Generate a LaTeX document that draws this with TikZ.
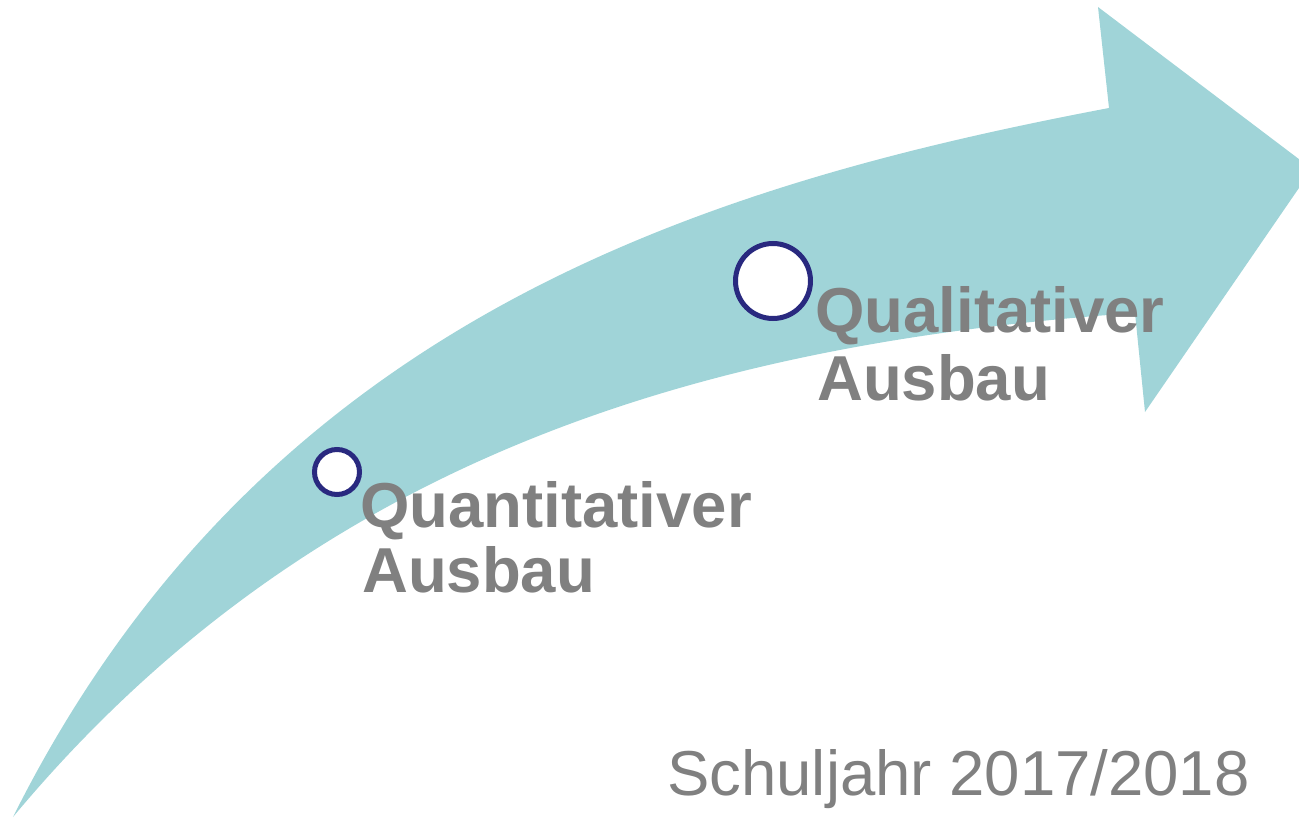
\documentclass[tikz,border=0pt]{standalone}
\usepackage{fontspec}
\setmainfont{Liberation Sans}
\definecolor{arrowteal}{HTML}{A0D4D8}
\definecolor{ringblue}{HTML}{29297F}
\definecolor{labelgray}{HTML}{808080}
\begin{document}
\begin{tikzpicture}[x=1pt,y=-1pt,
  ring/.style={circle, draw=ringblue, line width=5pt, fill=white, inner sep=0pt},
  biglabel/.style={anchor=base west, inner sep=0pt, text=labelgray,
    font=\fontsize{63.5}{64}\selectfont\bfseries},
  yearlabel/.style={anchor=base west, inner sep=0pt, text=labelgray,
    font=\fontsize{63.5}{64}\selectfont}]
\useasboundingbox (0,0) rectangle (1299,818);
\clip (0,0) rectangle (1299,818);
% curved arrow
\fill[arrowteal]
  (13,817) .. controls (263,317) and (709,184) .. (1109,108)
  -- (1098,7) -- (1312,169) -- (1145,412) -- (1135,313)
  .. controls (705,343) and (313,457) .. (13,817)
  -- cycle;
% milestones
\node[ring, minimum size=45pt] (m1) at (337,472) {};
\node[ring, minimum size=75pt] (m2) at (773,281) {};
% labels
\node[biglabel] (q1) at (360,527) {Quantitativer};
\node[biglabel] (q2) at (362,592) {Ausbau};
\node[biglabel] (l1) at (815,333) {Qualitativer};
\node[biglabel] (l2) at (817,400) {Ausbau};
\node[yearlabel] (year) at (667,795) {Schuljahr 2017/2018};
\end{tikzpicture}
\end{document}
